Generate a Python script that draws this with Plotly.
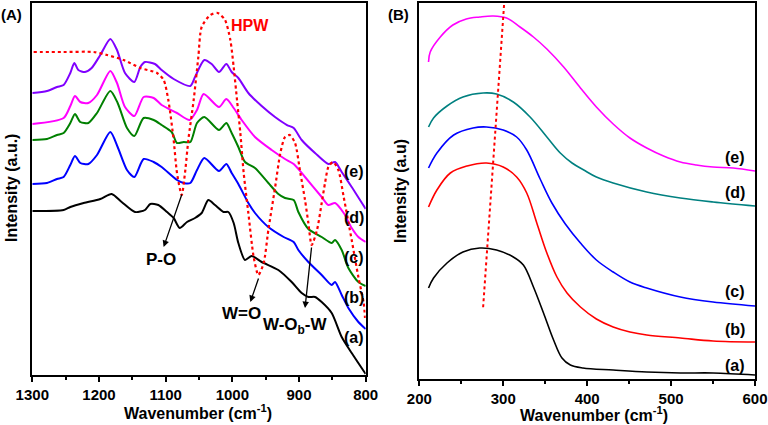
import plotly.graph_objects as go

# ---------------- Panel A: FTIR (wavenumber 1300-800) ----------------
wnA_e = [1300, 1278, 1263, 1253, 1243, 1237, 1231, 1221, 1211, 1198, 1183, 1173, 1161, 1147, 1138, 1131, 1116, 1106, 1088, 1063, 1056, 1042, 1031, 1020, 1009, 1001, 991, 976, 956, 936, 918, 908, 896, 876, 856, 846, 836, 821, 800]
intA_e = [282, 284, 288, 290, 302, 312, 305, 303, 307, 320, 336, 325, 302, 293, 308, 313, 311, 305, 296, 289, 298, 315, 311, 303, 311, 303, 297, 282, 269, 258, 250, 247, 235, 222, 211, 213, 203, 188, 166]

wnA_d = [1300, 1253, 1243, 1236, 1228, 1216, 1203, 1183, 1173, 1161, 1147, 1133, 1118, 1106, 1083, 1064, 1053, 1043, 1020, 1009, 998, 986, 966, 941, 921, 908, 891, 866, 856, 846, 833, 821, 811, 800]
intA_d = [251, 257, 269, 279, 273, 272, 280, 304, 292, 268, 259, 278, 277, 270, 262, 255, 265, 281, 268, 276, 267, 255, 238, 225, 216, 211, 198, 178, 170, 172, 162, 147, 138, 133]

wnA_c = [1300, 1278, 1263, 1253, 1243, 1236, 1228, 1216, 1203, 1183, 1172, 1158, 1147, 1133, 1118, 1106, 1091, 1083, 1073, 1063, 1053, 1042, 1020, 1009, 1001, 991, 981, 966, 946, 931, 921, 908, 901, 886, 866, 851, 846, 836, 826, 811, 800]
intA_c = [235, 236, 240, 242, 252, 261, 253, 252, 262, 284, 272, 247, 239, 257, 255, 250, 243, 232, 233, 233, 252, 258, 245, 252, 242, 228, 213, 207, 192, 181, 177, 175, 163, 146, 138, 132, 135, 125, 107, 93, 89]

wnA_b = [1300, 1278, 1263, 1253, 1243, 1236, 1228, 1216, 1203, 1183, 1172, 1158, 1147, 1133, 1118, 1106, 1083, 1073, 1063, 1053, 1042, 1020, 1009, 1001, 991, 976, 966, 946, 923, 908, 901, 886, 866, 851, 846, 836, 826, 811, 800]
intA_b = [191, 192, 196, 198, 210, 219, 212, 211, 220, 243, 228, 205, 198, 216, 213, 208, 195, 192, 192, 205, 217, 204, 211, 202, 191, 172, 162, 148, 138, 133, 125, 113, 100, 90, 93, 80, 67, 53, 46]

wnA_a = [1300, 1253, 1243, 1223, 1198, 1181, 1166, 1146, 1131, 1123, 1111, 1098, 1088, 1079, 1068, 1056, 1046, 1036, 1026, 1013, 1006, 998, 991, 981, 971, 956, 931, 911, 896, 886, 876, 866, 851, 836, 821, 800]
intA_a = [164, 165, 168, 172, 176, 181, 173, 163, 165, 171, 170, 163, 157, 147, 153, 157, 162, 175, 170, 163, 163, 152, 132, 115, 119, 113, 105, 93, 82, 78, 78, 73, 62, 38, 22, 1]

wnA_hpw = [1298, 1253, 1208, 1188, 1163, 1138, 1113, 1103, 1096, 1088, 1083, 1076, 1071, 1066, 1058, 1051, 1046, 1033, 1022, 1011, 1003, 998, 993, 988, 983, 976, 968, 961, 953, 946, 936, 928, 921, 914, 906, 898, 891, 886, 881, 873, 866, 861, 856, 849, 841, 833, 821, 811, 803, 801]
intA_hpw = [323, 323, 323, 320, 315, 307, 302, 295, 275, 235, 202, 180, 202, 235, 275, 318, 348, 360, 362, 355, 335, 308, 275, 242, 202, 162, 118, 100, 112, 145, 187, 222, 238, 240, 232, 202, 175, 152, 130, 145, 172, 192, 208, 213, 205, 178, 135, 98, 72, 57]

# ---------------- Panel B (wavenumber 200-600) ----------------
wnB_e = [211, 213, 225, 240, 256, 272, 288, 304, 320, 336, 352, 372, 392, 411, 431, 451, 471, 491, 511, 530, 550, 574, 600]
intB_e = [317, 327, 342, 354, 360, 362, 363, 361, 352, 342, 330, 312, 291, 272, 255, 241, 231, 223, 217, 214, 212, 211, 208]

wnB_d = [211, 217, 233, 252, 276, 292, 312, 332, 352, 368, 382, 396, 411, 431, 471, 511, 550, 600]
intB_d = [252, 261, 273, 282, 286, 285, 277, 262, 242, 226, 216, 209, 202, 196, 187, 181, 177, 173]

wnB_c = [211, 221, 241, 264, 280, 300, 316, 328, 344, 358, 374, 392, 411, 431, 451, 471, 511, 550, 600]
intB_c = [211, 226, 244, 251, 252, 249, 242, 229, 200, 176, 155, 136, 119, 107, 97, 91, 82, 77, 73]

wnB_b = [211, 221, 237, 257, 280, 300, 316, 328, 340, 352, 364, 376, 392, 411, 431, 451, 471, 511, 550, 600]
intB_b = [172, 189, 206, 213, 216, 212, 202, 186, 156, 126, 102, 86, 72, 60, 52, 47, 44, 41, 38, 37]

wnB_a = [211, 217, 233, 252, 272, 292, 312, 324, 336, 348, 360, 370, 380, 395, 431, 471, 511, 550, 600]
intB_a = [91, 101, 116, 127, 131, 129, 122, 114, 92, 66, 39, 21, 14, 11, 9, 7, 6, 6, 4]

wnB_shift = [301, 276]
intB_shift = [374, 71]

tickA = [1300, 1200, 1100, 1000, 900, 800]
tickB = [200, 300, 400, 500, 600]
labelsA = ["(a)", "(b)", "(c)", "(d)", "(e)"]
labelsB = ["(a)", "(b)", "(c)", "(d)", "(e)"]

FONT = "Liberation Sans, Arial, sans-serif"
W, H = 768, 425


def P(x, y):
    return x / W, 1 - y / H


fig = go.Figure()

colA = {"e": "#8000FF", "d": "#FF00FF", "c": "#008000", "b": "#0000FF", "a": "#000000"}
for k, xs, ys in [("a", wnA_a, intA_a), ("b", wnA_b, intA_b), ("c", wnA_c, intA_c),
                  ("d", wnA_d, intA_d), ("e", wnA_e, intA_e)]:
    fig.add_trace(go.Scatter(x=xs, y=ys, mode="lines", xaxis="x", yaxis="y",
                             line=dict(color=colA[k], width=2, shape="spline", smoothing=0.7),
                             showlegend=False))
fig.add_trace(go.Scatter(x=wnA_hpw, y=intA_hpw, mode="lines", xaxis="x", yaxis="y",
                         line=dict(color="#FF0000", width=2.2, dash="dot", shape="spline", smoothing=0.7),
                         showlegend=False))

colB = {"e": "#FF00FF", "d": "#008080", "c": "#0000FF", "b": "#FF0000", "a": "#000000"}
for k, xs, ys in [("a", wnB_a, intB_a), ("b", wnB_b, intB_b), ("c", wnB_c, intB_c),
                  ("d", wnB_d, intB_d), ("e", wnB_e, intB_e)]:
    fig.add_trace(go.Scatter(x=xs, y=ys, mode="lines", xaxis="x2", yaxis="y2",
                             line=dict(color=colB[k], width=1.6, shape="spline", smoothing=1.0),
                             showlegend=False))
fig.add_trace(go.Scatter(x=wnB_shift, y=intB_shift, mode="lines", xaxis="x2", yaxis="y2",
                         line=dict(color="#FF0000", width=2, dash="dot"), showlegend=False))

tickfont = dict(family=FONT, size=15, color="black", weight="bold")
axis_common = dict(showline=True, linecolor="black", linewidth=2, mirror=True,
                   showgrid=False, zeroline=False, automargin=False)

fig.update_layout(
    width=W, height=H, margin=dict(l=0, r=0, t=0, b=0, autoexpand=False),
    paper_bgcolor="white", plot_bgcolor="white",
    xaxis=dict(domain=[32.3 / W, 365.7 / W], range=[1300, 800], tickvals=tickA,
               ticks="outside", ticklen=5, tickwidth=1.5, tickcolor="black",
               tickfont=tickfont, anchor="y",
               minor=dict(dtick=50, tick0=800, ticks="outside", ticklen=3, tickwidth=1.5, tickcolor="black"),
               **axis_common),
    yaxis=dict(domain=[1 - 375 / H, 1 - 3 / H], range=[0, 372], showticklabels=False,
               ticks="", anchor="x", **axis_common),
    xaxis2=dict(domain=[419.3 / W, 755 / W], range=[200, 600], tickvals=tickB,
                ticks="outside", ticklen=5, tickwidth=1.5, tickcolor="black",
                tickfont=tickfont, anchor="y2",
                minor=dict(dtick=50, tick0=200, ticks="outside", ticklen=3, tickwidth=1.5, tickcolor="black"),
                **axis_common),
    yaxis2=dict(domain=[1 - 379 / H, 1 - 3 / H], range=[0, 376], showticklabels=False,
                ticks="", anchor="x2", **axis_common),
)

ann = []


def text_ann(x, y, text, size=16, color="black", angle=0):
    px, py = P(x, y)
    ann.append(dict(x=px, y=py, xref="paper", yref="paper", text=text, showarrow=False,
                    textangle=angle, xanchor="center", yanchor="middle",
                    font=dict(family=FONT, size=size, color=color, weight="bold")))


text_ann(11, 14, "(A)", 15)
text_ann(398, 14, "(B)", 15)
text_ann(250, 25, "HPW", 16, "#FF0000")
for lab, y in zip(labelsA, [337, 297, 257, 217.5, 171]):
    text_ann(354, y, lab, 16)
for lab, y in zip(labelsB, [365, 329, 291, 192.5, 157.5]):
    text_ann(735, y, lab, 16)
text_ann(161, 259, "P-O", 17)
text_ann(241, 313, "W=O", 17)
text_ann(295, 326, "W-O<sub>b</sub>-W", 17)
text_ann(198, 412, "Wavenumber (cm<sup>-1</sup>)", 16)
text_ann(594, 414, "Wavenumber (cm<sup>-1</sup>)", 16)
text_ann(11, 188, "Intensity (a.u.)", 16, angle=-90)
text_ann(400, 191, "Intensity (a.u)", 16, angle=-90)

# arrows (data coordinates of panel A)
for (hx, hy, tx, ty) in [(1103, 128, 1075, 182), (973, 73, 960, 98), (891, 67, 881, 129)]:
    ann.append(dict(x=hx, y=hy, ax=tx, ay=ty, xref="x", yref="y", axref="x", ayref="y",
                    showarrow=True, arrowhead=2, arrowsize=1, arrowwidth=1.3,
                    arrowcolor="black", text=""))

fig.update_layout(annotations=ann)
fig.write_html("out.html")
